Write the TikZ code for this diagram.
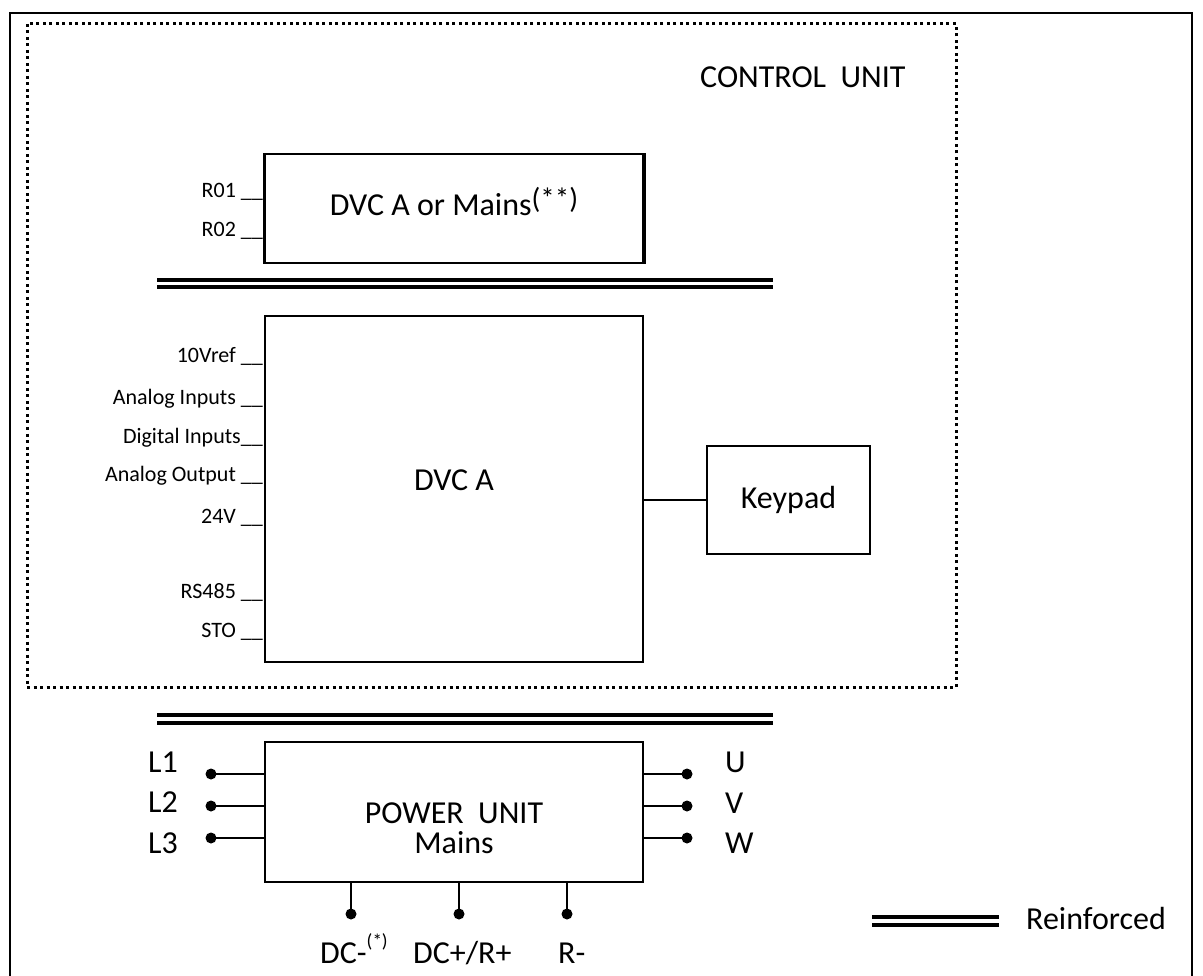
\documentclass[tikz,border=0pt]{standalone}
\usepackage{fontspec}
\setmainfont{Carlito}
\begin{document}
\begin{tikzpicture}[x=1pt,y=-1pt,
  box/.style={draw, line width=2pt, inner sep=0pt},
  big/.style={font=\fontsize{32}{38}\selectfont},
  small/.style={font=\fontsize{22}{26}\selectfont},
  wire/.style={line width=2pt},
  dotend/.style={circle, fill, inner sep=0pt, minimum size=11pt},
  reinf/.style={line width=3.5pt},
  lbl/.style={small, anchor=base east, inner sep=0pt},
  bigl/.style={big, inner sep=0pt},
  frame/.style={line width=2pt},
  dotframe/.style={line width=3pt, dash pattern=on 3pt off 3.5pt}
]
\useasboundingbox (0,0) rectangle (1203,976);
% outer frame
\draw[frame] (10,976) -- (10,13) -- (1192,13) -- (1192,976);
% control unit dotted frame
\draw[dotframe] (27,24) rectangle (956,687);
\node[bigl, anchor=base west] (cu) at (700,88) {CONTROL\ \ UNIT};

% top box
\node[box, line width=1.5pt, minimum width=378pt, minimum height=109pt] (top) at (454,208.5) {};
\draw[line width=3.5pt] (top.north west) -- (top.south west);
\draw[line width=3.5pt] (top.north east) -- (top.south east);
\node[bigl, anchor=base] (toptxt) at (454,216) {DVC A or Mains\raisebox{0.22em}{\fontsize{29}{30}\selectfont(**)}};
\node[lbl] (r01) at (263,198) {R01 \_\_};
\node[lbl] (r02) at (263,237) {R02 \_\_};

% upper reinforced double line
\draw[reinf] (157,280) -- (773,280);
\draw[reinf] (157,287) -- (773,287);

% DVC A box
\node[box, minimum width=378pt, minimum height=346pt] (dvc) at (454,489) {};
\node[bigl] (dvctxt) at (454,480) {DVC A};
\node[lbl] (v10) at (263,363) {10Vref \_\_};
\node[lbl] (ain) at (263,405) {Analog Inputs \_\_};
\node[lbl] (din) at (263,443) {Digital Inputs\_\_};
\node[lbl] (aout) at (263,482) {Analog Output \_\_};
\node[lbl] (v24) at (263,523) {24V \_\_};
\node[lbl] (rs) at (263,598) {RS485 \_\_};
\node[lbl] (sto) at (263,637) {STO \_\_};

% keypad
\node[box, minimum width=163pt, minimum height=108pt] (kp) at (788.5,500) {};
\node[bigl] (kptxt) at (788.5,500) {Keypad};
\draw[wire] (kp.west) -- (kp.west -| dvc.east);

% lower reinforced double line
\draw[reinf] (157,715) -- (773,715);
\draw[reinf] (157,723) -- (773,723);

% power unit
\node[box, minimum width=378pt, minimum height=140pt] (pu) at (454,812) {};
\node[bigl, anchor=base] (putxt) at (454,823) {POWER\ \ UNIT};
\node[bigl, anchor=base] (putxt2) at (454,853) {Mains};

\node[dotend] (l1) at (211,774) {};
\node[dotend] (l2) at (211,806) {};
\node[dotend] (l3) at (211,838) {};
\draw[wire] (l1.center) -- (l1 -| pu.west);
\draw[wire] (l2.center) -- (l2 -| pu.west);
\draw[wire] (l3.center) -- (l3 -| pu.west);
\node[bigl, anchor=base west] (tl1) at (148,772) {L1};
\node[bigl, anchor=base west] (tl2) at (148,812) {L2};
\node[bigl, anchor=base west] (tl3) at (148,853) {L3};

\node[dotend] (u) at (687,774) {};
\node[dotend] (v) at (687,806) {};
\node[dotend] (w) at (687,838) {};
\draw[wire] (u.center) -- (u -| pu.east);
\draw[wire] (v.center) -- (v -| pu.east);
\draw[wire] (w.center) -- (w -| pu.east);
\node[bigl, anchor=base west] (tu) at (725,772) {U};
\node[bigl, anchor=base west] (tv) at (725,813) {V};
\node[bigl, anchor=base west] (tw) at (725,853) {W};

\node[dotend] (dcm) at (351,914) {};
\node[dotend] (dcp) at (459,914) {};
\node[dotend] (rm) at (567,914) {};
\draw[wire] (dcm.center) -- (dcm |- pu.south);
\draw[wire] (dcp.center) -- (dcp |- pu.south);
\draw[wire] (rm.center) -- (rm |- pu.south);
\node[bigl, anchor=base west] (tdcm) at (320,963) {DC-\raisebox{0.5em}{\fontsize{19}{20}\selectfont(*)}};
\node[bigl, anchor=base west] (tdcp) at (413,963) {DC+/R+};
\node[bigl, anchor=base west] (trm) at (558,963) {R-};

% legend
\draw[reinf] (872,917) -- (999,917);
\draw[reinf] (872,925) -- (999,925);
\node[bigl, anchor=base west] (leg) at (1026,929) {Reinforced};
\end{tikzpicture}
\end{document}
